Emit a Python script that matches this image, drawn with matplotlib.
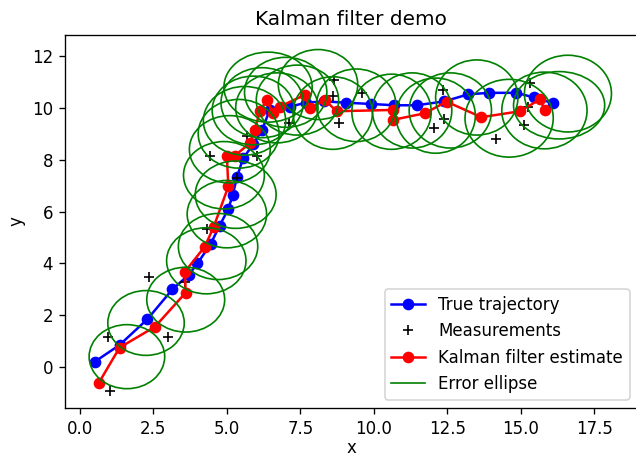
import matplotlib
matplotlib.use("Agg")
from matplotlib import pyplot as plt
from matplotlib.patches import Ellipse
from matplotlib.lines import Line2D

# true positions of the object
true_x = [0.5, 1.35, 2.3, 3.15, 3.7, 4.0, 4.45, 4.75, 5.05, 5.2, 5.35, 5.55, 5.9, 6.2,
          6.45, 7.15, 7.7, 8.3, 9.05, 9.9, 10.7, 11.45, 12.4, 13.2, 13.9, 14.85, 15.45, 16.1]
true_y = [0.2, 0.85, 1.85, 3.0, 3.55, 4.0, 4.75, 5.45, 6.1, 6.65, 7.35, 8.05, 8.6, 9.15,
          9.9, 10.05, 10.2, 10.25, 10.2, 10.15, 10.1, 10.1, 10.25, 10.52, 10.58, 10.58, 10.4, 10.18]

# noisy position measurements
meas_x = [1.02, 0.96, 3.0, 2.36, 3.57, 4.31, 5.33, 4.42, 5.67, 6.01, 7.1,
          8.65, 8.62, 8.82, 9.6, 12.04, 12.36, 12.38, 14.17, 15.31, 15.25, 15.1]
meas_y = [-0.91, 1.14, 1.14, 3.49, 3.28, 5.31, 7.29, 8.13, 8.9, 8.13, 9.41,
          11.08, 10.47, 9.4, 10.56, 9.22, 10.7, 9.58, 8.79, 10.95, 10.05, 9.33]

# filtered estimates
est_x = [0.65, 1.35, 2.55, 3.6, 3.57, 4.25, 4.55, 5.05, 5.0, 5.27, 5.78, 5.95, 6.12, 6.35,
         6.57, 6.8, 7.65, 7.82, 8.33, 8.73, 10.66, 10.66, 11.73, 12.47, 13.66, 14.97, 15.65, 15.82]
est_y = [-0.6, 0.75, 1.55, 2.87, 3.67, 4.65, 5.4, 6.97, 8.13, 8.15, 8.64, 9.15, 9.86, 10.3,
         9.8, 10.05, 10.5, 9.99, 10.31, 9.87, 9.92, 9.54, 9.79, 10.24, 9.64, 9.87, 10.33, 9.9]

# error ellipses (center, width, height)
ell_x = [1.6, 2.25, 3.6, 4.3, 4.7, 5.0, 5.3, 4.9, 5.1, 5.4, 5.6, 5.9, 6.2, 6.4, 6.7,
         7.0, 7.4, 8.1, 8.6, 9.4, 10.6, 11.3, 12.1, 12.6, 13.5, 14.6, 15.8, 16.3, 16.6]
ell_y = [0.4, 1.7, 2.6, 4.1, 4.65, 5.9, 6.65, 7.4, 8.4, 9.0, 9.5, 9.9, 10.2, 10.8, 10.0,
         10.6, 10.3, 10.9, 9.8, 10.1, 9.85, 9.9, 9.7, 9.9, 10.4, 9.6, 9.9, 10.1, 10.55]
ell_w = [2.57, 2.6, 2.65, 2.7, 2.7, 2.7, 2.75, 2.75, 2.75, 2.75, 2.8, 2.8, 2.8, 3.0, 2.8,
         2.8, 2.8, 2.7, 2.7, 2.7, 2.7, 2.7, 2.7, 2.8, 2.8, 3.0, 2.9, 3.1, 2.96]
ell_h = [2.47, 2.5, 2.5, 2.55, 2.55, 2.6, 2.6, 2.6, 2.6, 2.65, 2.65, 2.65, 2.7, 2.7, 2.7,
         2.7, 2.7, 2.7, 2.8, 2.8, 2.9, 2.9, 2.9, 2.9, 2.9, 3.0, 2.96, 2.6, 2.96]

fig = plt.figure(figsize=(636 / 120, 461 / 120), dpi=120)
ax = fig.add_axes([0.102, 0.115, 0.901, 0.809])

ax.plot(true_x, true_y, 'bo-', label="True trajectory")
ax.plot(meas_x, meas_y, 'k+', label="Measurements")
ax.plot(est_x, est_y, 'ro-', label="Kalman filter estimate")

for cx, cy, w, h in zip(ell_x, ell_y, ell_w, ell_h):
    ax.add_patch(Ellipse((cx, cy), w, h, fill=False, edgecolor='g',
                         linewidth=1.0, zorder=3))

handles, labels = ax.get_legend_handles_labels()
handles.append(Line2D([], [], color='g', linewidth=1.0))
labels.append("Error ellipse")
ax.legend(handles, labels, loc="lower right")

ax.set_xlim(-0.51, 18.98)
ax.set_ylim(-1.58, 12.81)
ax.set_xlabel("x", labelpad=1)
ax.set_ylabel("y")
ax.set_title("Kalman filter demo")

fig.savefig("out.png", dpi=120)
